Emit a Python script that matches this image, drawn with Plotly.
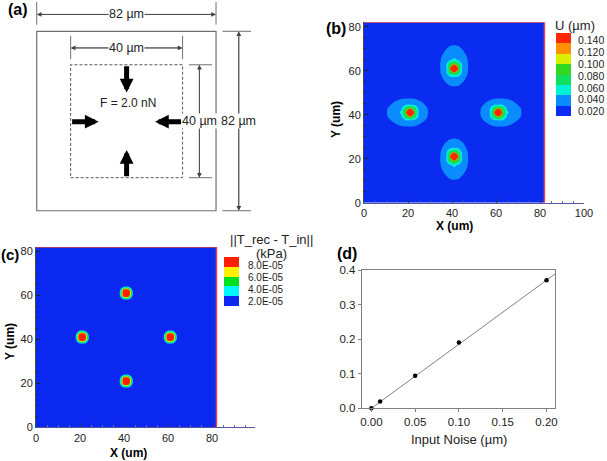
import plotly.graph_objects as go

W, H = 607, 461
FONT = "Liberation Sans"

# ---------- panel (b): displacement around one force point
# rows = distance along the arm (away from the centre positive), cols = across
U_ALONG = [-10, -8, -6, -4, -2, 0, 2, 4, 6, 8, 10, 12]
U_ACROSS = [-8, -6, -4, -2, 0, 2, 4, 6, 8]
U_TABLE = [
    [.008, .008, .009, .011, .013, .011, .009, .008, .008],
    [.008, .009, .013, .0195, .0205, .0195, .013, .009, .008],
    [.009, .012, .021, .025, .027, .025, .021, .012, .009],
    [.010, .018, .025, .033, .036, .033, .025, .018, .010],
    [.011, .021, .027, .070, .085, .070, .027, .021, .011],
    [.012, .0215, .026, .090, .800, .090, .026, .0215, .012],
    [.011, .022, .029, .075, .095, .075, .029, .022, .011],
    [.010, .0205, .028, .036, .045, .036, .028, .0205, .010],
    [.010, .018, .025, .029, .032, .029, .025, .018, .010],
    [.009, .012, .021, .026, .027, .026, .021, .012, .009],
    [.008, .009, .014, .021, .022, .021, .014, .009, .008],
    [.008, .008, .010, .012, .015, .012, .010, .008, .008],
]
U_LEVELS = [0.02, 0.04, 0.06, 0.08, 0.10, 0.12, 0.14]
U_COLORS = ["#0A2CF0", "#0A8CFF", "#00F0D8", "#10E060", "#30D820", "#D8F000", "#FF9000", "#FF2800"]
U_BACKGROUND = 0.008
U_LABELS = ["0.140", "0.120", "0.100", "0.080", "0.060", "0.040", "0.020"]

# ---------- panel (c): traction error around one force point (kPa x 1e-5)
T_OFFSETS = [-4, -3, -2, -1, 0, 1, 2, 3, 4]
T_TABLE = [
    [.3, .3, .4, .5, .5, .5, .4, .3, .3],
    [.3, .4, .8, 1.5, 1.7, 1.5, .8, .4, .3],
    [.4, .8, 2.6, 6.2, 6.5, 6.2, 2.6, .8, .4],
    [.5, 1.5, 6.2, 11, 12, 11, 6.2, 1.5, .5],
    [.5, 1.7, 6.5, 12, 20, 12, 6.5, 1.7, .5],
    [.5, 1.5, 6.2, 11, 12, 11, 6.2, 1.5, .5],
    [.4, .8, 2.6, 6.2, 6.5, 6.2, 2.6, .8, .4],
    [.3, .4, .8, 1.5, 1.7, 1.5, .8, .4, .3],
    [.3, .3, .4, .5, .5, .5, .4, .3, .3],
]
T_LEVELS = [2e-5, 4e-5, 6e-5, 8e-5]
T_COLORS = ["#0A28F0", "#00F8FF", "#00E020", "#FFF000", "#FF2000"]
T_BACKGROUND = 0.1
T_LABELS = ["8.0E-05", "6.0E-05", "4.0E-05", "2.0E-05"]

# ---------- panel (d)
NOISE_X = [0.0, 0.01, 0.05, 0.10, 0.20]
NOISE_Y = [0.0, 0.02, 0.094, 0.19, 0.37]
FIT_X = [0.0, 0.21]
FIT_Y = [0.0, 0.389]

# force points (µm)
PEAK_TOP, PEAK_BOTTOM, PEAK_LEFT, PEAK_RIGHT = (41, 61), (41, 21), (21, 41), (61, 41)


def fx(px):
    return px / W


def fy(py):
    return 1 - py / H


def build_u():
    grid = [0] + list(range(1, 82, 2)) + [82]
    z = {(x, y): U_BACKGROUND for x in grid for y in grid}
    for r, along in enumerate(U_ALONG):
        for c, across in enumerate(U_ACROSS):
            v = U_TABLE[r][c]
            z[(PEAK_TOP[0] + across, PEAK_TOP[1] + along)] = v
            z[(PEAK_BOTTOM[0] + across, PEAK_BOTTOM[1] - along)] = v
            z[(PEAK_LEFT[0] - along, PEAK_LEFT[1] + across)] = v
            z[(PEAK_RIGHT[0] + along, PEAK_RIGHT[1] + across)] = v
    return grid, [[z[(x, y)] for x in grid] for y in grid]


def build_t():
    grid = list(range(0, 83))
    z = {(x, y): T_BACKGROUND for x in grid for y in grid}
    for r, dy in enumerate(T_OFFSETS):
        for c, dx in enumerate(T_OFFSETS):
            for cx, cy in (PEAK_TOP, PEAK_BOTTOM, PEAK_LEFT, PEAK_RIGHT):
                z[(cx + dx, cy + dy)] = T_TABLE[r][c]
    return grid, [[z[(x, y)] * 1e-5 for x in grid] for y in grid]


def steps(colors):
    n = len(colors) - 1
    return [[i / n, col] for i, col in enumerate(colors)]


fig = go.Figure()

ug, uz = build_u()
fig.add_trace(go.Contour(
    x=ug, y=ug, z=uz, xaxis="x2", yaxis="y2", autocontour=False, showscale=False,
    contours=dict(start=U_LEVELS[0], end=U_LEVELS[-1], size=0.02, coloring="fill", showlines=False),
    line=dict(width=0, smoothing=0.9), colorscale=steps(U_COLORS), hoverinfo="skip",
))
tg, tz = build_t()
fig.add_trace(go.Contour(
    x=tg, y=tg, z=tz, xaxis="x3", yaxis="y3", autocontour=False, showscale=False,
    contours=dict(start=T_LEVELS[0], end=T_LEVELS[-1], size=2e-5, coloring="fill", showlines=False),
    line=dict(width=0, smoothing=0.9), colorscale=steps(T_COLORS), hoverinfo="skip",
))
# colour keys
for colors, xa, ya in ((U_COLORS, "x5", "y5"), (T_COLORS, "x6", "y6")):
    fig.add_trace(go.Heatmap(z=[[i] for i in range(len(colors))], xaxis=xa, yaxis=ya, showscale=False,
                             zmin=0, zmax=len(colors) - 1, colorscale=steps(colors), hoverinfo="skip",
                             xgap=0, ygap=0))
fig.add_trace(go.Scatter(x=FIT_X, y=FIT_Y, xaxis="x4", yaxis="y4", mode="lines",
                         line=dict(color="#808080", width=1), hoverinfo="skip", showlegend=False))
fig.add_trace(go.Scatter(x=NOISE_X, y=NOISE_Y, xaxis="x4", yaxis="y4", mode="markers", cliponaxis=False,
                         marker=dict(color="black", size=4.5), hoverinfo="skip", showlegend=False))

GRAY = "#707070"
shapes = []


def seg(x0, y0, x1, y1, color=GRAY, width=1, dash=None, ref=("x", "y")):
    shapes.append(dict(type="line", xref=ref[0], yref=ref[1], x0=x0, y0=y0, x1=x1, y1=y1,
                       line=dict(color=color, width=width, dash=dash)))


# panel (a) drawing, in µm from the outer box corner
OUTER = (0, 82)
IN_X = (15.5, 66.7)
IN_Y = (15.1, 66.7)
shapes.append(dict(type="rect", xref="x", yref="y", x0=OUTER[0], x1=OUTER[1], y0=OUTER[0], y1=OUTER[1],
                   line=dict(color=GRAY, width=1.2)))
shapes.append(dict(type="rect", xref="x", yref="y", x0=IN_X[0], x1=IN_X[1], y0=IN_Y[0], y1=IN_Y[1],
                   line=dict(color="#555555", width=1, dash="3px,2px")))
for u in OUTER:
    seg(u, 85, u, 95.4)
    seg(84.9, u, 98, u)
for u in IN_X:
    seg(u, 69.3, u, 79.9)
for v in IN_Y:
    seg(69.6, v, 80.2, v)

ann = []


def dim(x0, y0, x1, y1):
    for a, b, c, d in ((x0, y0, x1, y1), (x1, y1, x0, y0)):
        ann.append(dict(x=a, y=b, ax=c, ay=d, xref="x", yref="y", axref="x", ayref="y", text="", showarrow=True,
                        arrowhead=2, arrowsize=1.2, arrowwidth=0.8, arrowcolor="#444444"))


def force(x0, y0, x1, y1):
    ann.append(dict(x=x1, y=y1, ax=x0, ay=y0, xref="x", yref="y", axref="x", ayref="y", text="", showarrow=True,
                    arrowhead=2, arrowsize=0.55, arrowwidth=5, arrowcolor="black"))


dim(0, 89.7, 82, 89.7)
dim(15.5, 74.4, 66.7, 74.4)
dim(74.4, 15.1, 74.4, 66.7)
dim(92.4, 0, 92.4, 82)
force(41.1, 66.7, 41.1, 54)
force(41.1, 15.1, 41.1, 27.8)
force(15.5, 40.7, 28.3, 40.7)
force(66.7, 40.7, 54.1, 40.7)


def txt(x, y, s, size=12, ref=("x", "y"), bold=False, bg=None, angle=0, color="#222222", anchor="center"):
    ann.append(dict(x=x, y=y, xref=ref[0], yref=ref[1], text=f"<b>{s}</b>" if bold else s, showarrow=False,
                    textangle=angle, bgcolor=bg, borderpad=0,
                    font=dict(family=FONT, size=size, color=color), xanchor=anchor, yanchor="middle"))


txt(41, 89.7, "82 µm", bg="white", size=12.5)
txt(41, 74.4, "40 µm", bg="white", size=12.5)
txt(41.6, 49.2, "F = 2.0 nN", size=12)
txt(74.5, 41, "40 µm", bg="white", size=12.5)
txt(92.4, 41, "82 µm", bg="white", size=12.5)


def p(px, py, s, **k):
    txt(fx(px), fy(py), s, ref=("paper", "paper"), **k)


p(18, 10, "(a)", size=16, bold=True, color="black")
p(336, 28, "(b)", size=16, bold=True, color="black")
p(10, 254, "(c)", size=15, bold=True, color="black")
p(347, 253, "(d)", size=16, bold=True, color="black")
p(455, 226, "X (um)", size=12, bold=True, color="black")
p(336, 120, "Y (um)", size=12, bold=True, angle=-90, color="black")
p(128, 453, "X (um)", size=12, bold=True, color="black")
p(10, 342, "Y (um)", size=12, bold=True, angle=-90, color="black")
p(575, 25, "U (µm)", size=13)
p(271, 239, "||T_rec - T_in||", size=13)
p(271, 253, "(kPa)", size=13)
p(459, 439, "Input Noise (µm)", size=13)
for i, lab in enumerate(U_LABELS):
    p(577.3, 40 + i * 11.9, lab, size=10.5, anchor="left")
for i, lab in enumerate(T_LABELS):
    p(246.7, 265.7 + i * 11.8, lab, size=10, anchor="left")

# red top and right borders of the computed field
for ref in (("x2", "y2"), ("x3", "y3")):
    seg(0, 82, 82, 82, color="#E0405A", width=1.5, ref=ref)
    seg(82, 82, 82, 0, color="#E0405A", width=1.5, ref=ref)


def contour_axes(x0, x1, xmax, y0, y1, anchor_x, anchor_y, tickvals):
    tf = dict(family=FONT, size=11, color="#222222")
    xa = dict(domain=[fx(x0), fx(x1)], range=[0, xmax], anchor=anchor_y, tickmode="array", tickvals=tickvals,
              ticks="inside", ticklen=4, tickcolor="#333366", showgrid=False, zeroline=False, showline=True,
              linecolor="#5555A5", linewidth=1, tickfont=tf, layer="above traces", automargin=False,
              minor=dict(dtick=5, ticks="inside", ticklen=2, tickcolor="#7070B0", showgrid=False))
    ya = dict(domain=[fy(y1), fy(y0)], range=[0, 82], anchor=anchor_x, tickmode="array",
              tickvals=[0, 20, 40, 60, 80], ticks="inside", ticklen=4, tickcolor="#222222", showgrid=False,
              zeroline=False, showline=True, linecolor="#444444", linewidth=1, tickfont=tf, layer="above traces",
              automargin=False,
              minor=dict(dtick=5, ticks="inside", ticklen=2, tickcolor="#222222", showgrid=False))
    return xa, ya


x2, y2 = contour_axes(364, 584, 100, 22.3, 202.7, "x2", "y2", [0, 20, 40, 60, 80, 100])
x3, y3 = contour_axes(36, 255, 99.5, 246.9, 427.3, "x3", "y3", [0, 20, 40, 60, 80])

tfd = dict(family=FONT, size=11.5, color="#222222")
fig.update_layout(
    width=W, height=H, margin=dict(l=0, r=0, t=0, b=0), paper_bgcolor="white", plot_bgcolor="white",
    showlegend=False, shapes=shapes, annotations=ann,
    xaxis=dict(domain=[0, fx(300)], range=[-16.8, 120.4], visible=False, anchor="y", automargin=False),
    yaxis=dict(domain=[fy(230), 1], range=[-8.8, 96.3], visible=False, anchor="x", automargin=False),
    xaxis2=x2, yaxis2=y2, xaxis3=x3, yaxis3=y3,
    xaxis4=dict(domain=[fx(361.7), fx(555.3)], range=[-0.011, 0.21], anchor="y4", tickmode="array",
                tickvals=[0, 0.05, 0.10, 0.15, 0.20], tickformat=".2f", ticks="outside", ticklen=3,
                tickcolor="#808080", showline=True, mirror=True, linecolor="#808080", showgrid=False,
                zeroline=False, tickfont=tfd, automargin=False),
    yaxis4=dict(domain=[fy(408.3), fy(270)], range=[0, 0.4], anchor="x4", tickmode="array",
                tickvals=[0, 0.1, 0.2, 0.3, 0.4], tickformat=".1f", ticks="outside", ticklen=3,
                tickcolor="#808080", showline=True, mirror=True, linecolor="#808080", showgrid=False,
                zeroline=False, tickfont=tfd, automargin=False),
    xaxis5=dict(domain=[fx(556), fx(571)], visible=False, anchor="y5", automargin=False),
    yaxis5=dict(domain=[fy(116), fy(33)], visible=False, anchor="x5", automargin=False),
    xaxis6=dict(domain=[fx(224), fx(239)], visible=False, anchor="y6", automargin=False),
    yaxis6=dict(domain=[fy(306), fy(257)], visible=False, anchor="x6", automargin=False),
)
fig.write_html("out.html", config=dict(displayModeBar=False),
               post_script="document.body.style.margin='0';document.body.style.overflow='hidden';")
